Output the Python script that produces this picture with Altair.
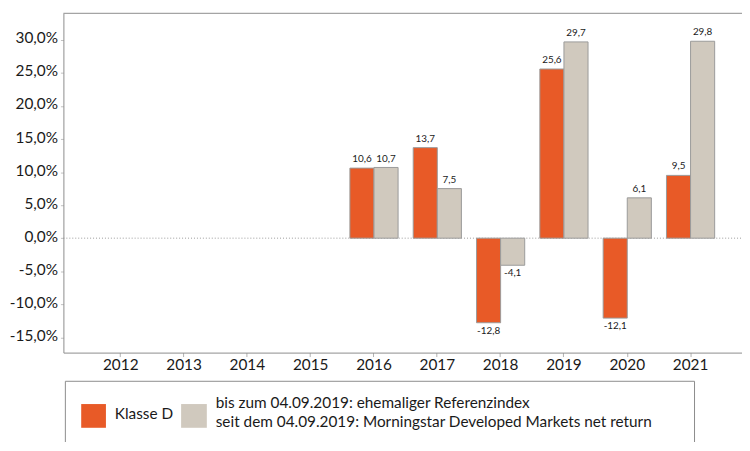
import altair as alt
import pandas as pd

# ---- data ----
years = ["2012", "2013", "2014", "2015", "2016", "2017", "2018", "2019", "2020", "2021"]
klasse_d = [None, None, None, None, 10.6, 13.7, -12.8, 25.6, -12.1, 9.5]
referenz = [None, None, None, None, 10.7, 7.5, -4.1, 29.7, 6.1, 29.8]
series = ["Klasse D", "Referenzindex"]
colors = ["#E85A27", "#D0C9BE"]
y_ticks = [-15, -10, -5, 0, 5, 10, 15, 20, 25, 30]
y_domain = [-17.32, 34.03]
legend_name = "Klasse D"
legend_line1 = "bis zum 04.09.2019: ehemaliger Referenzindex"
legend_line2 = "seit dem 04.09.2019: Morningstar Developed Markets net return"

rows = []
for yr, a, b in zip(years, klasse_d, referenz):
    if a is not None:
        rows.append({"year": yr, "series": series[0], "value": a})
    if b is not None:
        rows.append({"year": yr, "series": series[1], "value": b})
df = pd.DataFrame(rows)
one = pd.DataFrame({"value": [0]})

FONT = "Lato"
TXT = "#1a1a1a"
LINE = "#8c8c8c"
W, H = 686, 343

x_enc = alt.X(
    "year:N",
    scale=alt.Scale(domain=years, paddingInner=0, paddingOuter=0.359, align=0.565),
    axis=alt.Axis(title=None, labelAngle=0, labelFont=FONT, labelFontSize=15.5,
                  labelColor=TXT, tickSize=4, tickColor="#b0b0b0", domainColor=LINE,
                  labelPadding=1),
)
xo_enc = alt.XOffset("series:N", scale=alt.Scale(domain=series, paddingInner=0, paddingOuter=0.314))
y_enc = alt.Y(
    "value:Q",
    scale=alt.Scale(domain=y_domain, nice=False, zero=False),
    axis=alt.Axis(title=None, values=y_ticks, grid=False, labelFont=FONT, labelFontSize=15.5,
                  labelColor=TXT, tickSize=3, tickColor="#c0c0c0", domainColor=LINE,
                  labelPadding=3, labelOverlap=False, labelOffset=-2,
                  labelExpr="(datum.value < 0 ? '-' : '') + replace(format(abs(datum.value), '.1f'), '.', ',') + '%'"),
)

base = alt.Chart(df).encode(x=x_enc, xOffset=xo_enc, y=y_enc)

bars = base.mark_bar(stroke="#9a9a9a", strokeWidth=1).encode(
    color=alt.Color("series:N", scale=alt.Scale(domain=series, range=colors), legend=None)
)

lab = base.transform_calculate(
    label="(datum.value < 0 ? '-' : '') + replace(format(abs(datum.value), '.1f'), '.', ',')"
)
pos_lab = lab.transform_filter("datum.value >= 0").mark_text(
    baseline="bottom", dy=-4, font=FONT, fontSize=10, color=TXT
).encode(text="label:N")
neg_lab = lab.transform_filter("datum.value < 0").mark_text(
    baseline="top", dy=3, font=FONT, fontSize=10, color=TXT
).encode(text="label:N")

zero = alt.Chart(one).mark_rule(color="#9a9a9a", strokeDash=[1, 2], strokeWidth=1).encode(
    y=y_enc, x=alt.value(0), x2=alt.value(W)
)
top_border = alt.Chart(one).mark_rule(color=LINE, strokeWidth=1).encode(
    y=alt.value(0), x=alt.value(0), x2=alt.value(W)
)

# legend (manual)
leg_box = alt.Chart(one).mark_rect(fill="white", stroke=LINE, strokeWidth=1).encode(
    x=alt.value(2), x2=alt.value(638), y=alt.value(372), y2=alt.value(470)
)
leg_sq1 = alt.Chart(one).mark_rect(fill=colors[0]).encode(
    x=alt.value(18), x2=alt.value(43), y=alt.value(395), y2=alt.value(419)
)
leg_sq2 = alt.Chart(one).mark_rect(fill=colors[1]).encode(
    x=alt.value(119), x2=alt.value(145), y=alt.value(395), y2=alt.value(419)
)
leg_t0 = alt.Chart(one).mark_text(align="left", baseline="alphabetic", font=FONT, fontSize=15.5, color=TXT).encode(
    x=alt.value(52), y=alt.value(410), text=alt.value(legend_name)
)
leg_t1 = alt.Chart(one).mark_text(align="left", baseline="alphabetic", font=FONT, fontSize=15.5, color=TXT).encode(
    x=alt.value(154), y=alt.value(399), text=alt.value(legend_line1)
)
leg_t2 = alt.Chart(one).mark_text(align="left", baseline="alphabetic", font=FONT, fontSize=15.5, color=TXT).encode(
    x=alt.value(154), y=alt.value(418), text=alt.value(legend_line2)
)

chart = alt.layer(
    zero, top_border, bars, pos_lab, neg_lab, leg_box, leg_sq1, leg_sq2, leg_t0, leg_t1, leg_t2
).properties(
    width=W, height=H,
    autosize=alt.AutoSizeParams(type="none"),
    padding={"left": 56, "top": 3, "right": 0, "bottom": 88},
).configure_view(stroke=None).configure_axis(labelOverlap=False)

chart.save("out.html", embed_options={"renderer": "svg", "actions": False})
